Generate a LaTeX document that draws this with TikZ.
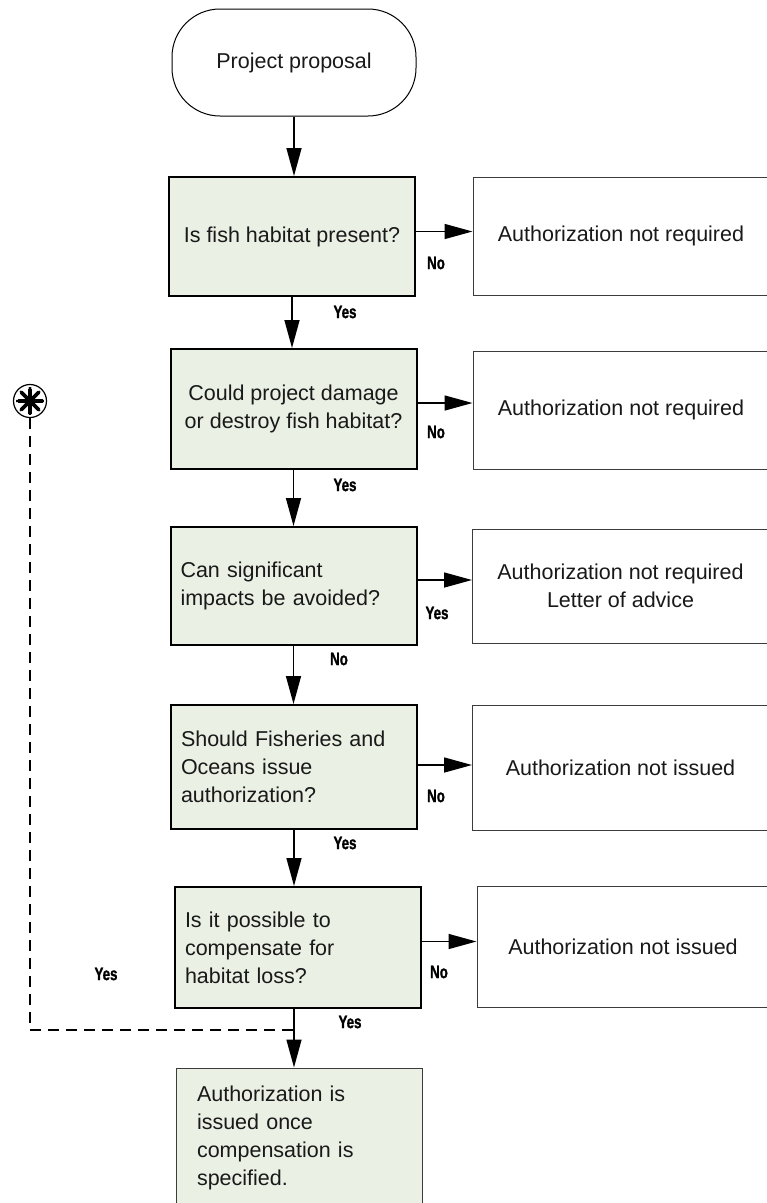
\documentclass[tikz,border=0pt]{standalone}
\usepackage{fontspec}
\setmainfont{Liberation Sans}
\newfontfamily\answerfont[FakeStretch=0.74, FakeBold=1.2]{Liberation Sans Bold}
\usetikzlibrary{%
	arrows.meta,%
	calc,%
	positioning,%
}
\definecolor{cgreenlight}{RGB}{234, 240, 228}
\definecolor{cgrayline}{RGB}{60, 60, 60}
\definecolor{ctext}{RGB}{25, 25, 25}
\tikzset{
	>={Triangle[length=28pt, width=15pt]},%
	nodes={align=center},%
	startnode/.style={%
			draw,%
			rectangle,%
			line width=1pt,%
			rounded corners=48pt,%
			minimum width=244pt,%
			minimum height=107pt,%
			inner sep=0pt},%
	question/.style={%
			draw,%
			rectangle,%
			line width=2pt,%
			fill=cgreenlight,%
			minimum width=246pt,%
			inner xsep=10pt,%
			inner ysep=0pt},%
	leftquestion/.style={%
			question,%
			align=left,%
			text width=226pt},%
	outcome/.style={%
			draw=cgrayline,%
			rectangle,%
			line width=1pt,%
			fill=white,%
			minimum width=296pt,%
			inner sep=0pt},%
	answer/.style={%
			font=\answerfont\fontsize{18}{20}\selectfont,%
			text=black,%
			inner sep=1pt},%
	starnode/.style={%
			draw,%
			circle,%
			line width=1.2pt,%
			minimum size=33pt,%
			inner sep=0pt,%
			path picture={%
					\foreach \a in {90,135,...,450}
					\fill (path picture bounding box.center) -- ++(\a+12:5pt) -- ++(\a:9pt) -- ++(\a-90:2.2pt) -- (path picture bounding box.center) -- cycle;
					\foreach \a in {90,135,...,450}
					\draw[line width=3.6pt] (path picture bounding box.center) -- ++(\a:12.5pt);
				}},%
	flow/.style={->, line width=1.5pt},%
	loopback/.style={line width=1.5pt, dash pattern=on 11pt off 7pt},%
}

\begin{document}
\begin{tikzpicture}[x=1pt, y=-1pt, nodes={font={\fontsize{21.5}{28}\selectfont}, text=ctext}]%
	\useasboundingbox (0,0) rectangle (767,1203);

	\node[startnode] (start) at (294,62.5) {Project proposal};

	\node[question, minimum height=119pt] (q1) at (292,236.5) {Is fish habitat present?};
	\node[question, minimum height=120pt] (q2) at (293.5,409) {Could project damage\\or destroy fish habitat?};
	\node[leftquestion, minimum height=118pt] (q3) at (293.5,586) {Can significant\\impacts be avoided?};
	\node[leftquestion, minimum height=124pt] (q4) at (294,767) {Should Fisheries and\\Oceans issue\\authorization?};
	\node[leftquestion, minimum height=121pt] (q5) at (298,947.5) {Is it possible to\\compensate for\\habitat loss?};
	\node[leftquestion, draw=cgrayline, line width=1pt, inner xsep=21pt, text width=204pt, minimum height=140pt] (q6) at (299,1138) {Authorization is\\issued once\\compensation is\\specified.};

	\node[outcome, minimum height=118pt] (r1) at (621,236) {Authorization not required};
	\node[outcome, minimum height=118pt] (r2) at (621,410) {Authorization not required};
	\node[outcome, minimum height=114pt] (r3) at (620.5,586) {Authorization not required\\Letter of advice};
	\node[outcome, minimum height=125pt] (r4) at (620.5,767.5) {Authorization not issued};
	\node[outcome, minimum width=292pt, minimum height=121pt] (r5) at (623,946.5) {Authorization not issued};

	\node[starnode] (star) at (30,401) {};

	\node[answer] (no1) at (436,263) {No};
	\node[answer] (yes1) at (345,312) {Yes};
	\node[answer] (no2) at (436,432) {No};
	\node[answer] (yes2) at (345,485) {Yes};
	\node[answer] (yes3) at (437,613) {Yes};
	\node[answer] (no3) at (339,659) {No};
	\node[answer] (no4) at (436,796) {No};
	\node[answer] (yes4) at (345,843) {Yes};
	\node[answer] (no5) at (439,972) {No};
	\node[answer] (yes6) at (106,974) {Yes};
	\node[answer] (yes5) at (350,1022) {Yes};

	\coordinate (join) at ($(q5.south -| q4.south)+(0,21)$);

	\draw[flow] (start.south) to (start.south |- q1.north);
	\draw[flow] (q1.south) to (q1.south |- q2.north);
	\draw[flow] (q2.south) to (q2.south |- q3.north);
	\draw[flow] (q3.south) to (q3.south |- q4.north);
	\draw[flow] (q4.south) to (q4.south |- q5.north);
	\draw[flow] (q5.south -| q4.south) to (q6.north -| q4.south);
	\draw[flow] ([yshift=5pt]q1.east) to ([yshift=5pt]q1.east -| r1.west);
	\draw[flow] ([yshift=6pt]q2.east) to ([yshift=6pt]q2.east -| r2.west);
	\draw[flow] ([yshift=6pt]q3.east) to ([yshift=6pt]q3.east -| r3.west);
	\draw[flow] ([yshift=2pt]q4.east) to ([yshift=2pt]q4.east -| r4.west);
	\draw[flow] ([yshift=6pt]q5.east) to ([yshift=6pt]q5.east -| r5.west);
	\draw[loopback] (star.south) |- (join);
\end{tikzpicture}
\end{document}
